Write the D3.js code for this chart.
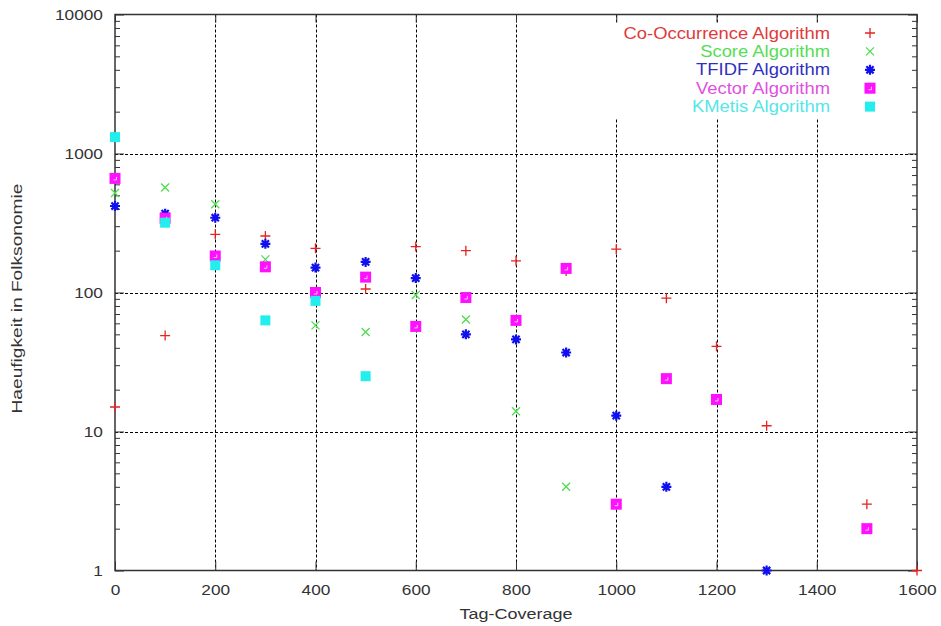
<!DOCTYPE html>
<html>
<head>
<meta charset="utf-8">
<script src="https://cdn.jsdelivr.net/npm/d3@7"></script>
<style>
  html, body { margin: 0; padding: 0; background: #fff; }
  svg { display: block; font-family: "Liberation Sans", Arial, sans-serif; }
</style>
</head>
<body>
<svg id="chart" width="941" height="626"></svg>
<script>
// ---- data ----
const xTicks = [0, 200, 400, 600, 800, 1000, 1200, 1400, 1600];
const yTicks = [1, 10, 100, 1000, 10000];
const xGrid = [200, 400, 600, 800, 1000, 1200, 1400];
const yGrid = [10, 100, 1000];

const seriesNames = ["Co-Occurrence Algorithm", "Score Algorithm", "TFIDF Algorithm", "Vector Algorithm", "KMetis Algorithm"];

const coX = [0, 100, 200, 300, 400, 500, 600, 700, 800, 900, 1000, 1100, 1200, 1300, 1500, 1600];
const coY = [15, 49, 262, 255, 208, 106, 214, 200, 169, 143, 205, 91, 41, 11, 3, 1];

const scoreX = [0, 100, 200, 300, 400, 500, 600, 700, 800, 900];
const scoreY = [520, 570, 431, 173, 58, 52, 96, 64, 14, 4];

const tfidfX = [0, 100, 200, 300, 400, 500, 600, 700, 800, 900, 1000, 1100, 1300];
const tfidfY = [419, 369, 345, 224, 151, 166, 127, 50, 46, 37, 13, 4, 1];

const vecX = [0, 100, 200, 300, 400, 500, 600, 700, 800, 900, 1000, 1100, 1200, 1500];
const vecY = [662, 342, 183, 153, 100, 129, 57, 92, 63, 149, 3, 24, 17, 2];

const kmX = [0, 100, 200, 300, 400, 500];
const kmY = [1312, 318, 157, 63, 87, 25];

// ---- layout ----
const W = 941, H = 626;
const pLeft = 115, pRight = 917, pTop = 14.5, pBottom = 570.5;

const svg = d3.select("#chart");
const x = d3.scaleLinear().domain([0, 1600]).range([pLeft, pRight]);
const y = d3.scaleLog().domain([1, 10000]).range([pBottom, pTop]);

const textCol = "#333";
const axisCol = "#333";

// ---- grid ----
const grid = svg.append("g").attr("stroke", "#000").attr("stroke-width", 1).attr("stroke-dasharray", "3,2");
grid.selectAll("line.v").data(xGrid).join("line").attr("class", "v")
  .attr("x1", d => Math.round(x(d)) + 0.5).attr("x2", d => Math.round(x(d)) + 0.5)
  .attr("y1", pTop).attr("y2", pBottom);
grid.selectAll("line.h").data(yGrid).join("line").attr("class", "h")
  .attr("y1", d => Math.round(y(d)) + 0.5).attr("y2", d => Math.round(y(d)) + 0.5)
  .attr("x1", pLeft).attr("x2", pRight);

// legend box blanks the grid
const legRowH = 18.4;
const legTop = 33;
svg.append("rect")
  .attr("x", 560).attr("y", pTop + 8)
  .attr("width", pRight - 560 - 1)
  .attr("height", legTop + legRowH * 4 + 12 - (pTop + 8))
  .attr("fill", "#fff");

// ---- axes ----
function styleAxis(g) {
  g.select(".domain").remove();
  g.selectAll(".tick line").attr("stroke", axisCol).attr("stroke-width", 1);
}
const minorVals = [];
for (let e = 0; e < 4; e++) for (let m = 2; m <= 9; m++) minorVals.push(m * Math.pow(10, e));

// left major
svg.append("g").attr("transform", `translate(${pLeft},0)`)
  .call(d3.axisLeft(y).tickValues(yTicks).tickFormat(d3.format("d")).tickSize(-9).tickPadding(10))
  .call(styleAxis)
  .call(g => g.selectAll("text").attr("fill", textCol).attr("font-size", 15)
    .attr("font-family", "Liberation Sans, Arial, sans-serif")
    .attr("transform", "scale(1.15,1)").attr("x", -10.5));
// left minor
svg.append("g").attr("transform", `translate(${pLeft},0)`)
  .call(d3.axisLeft(y).tickValues(minorVals).tickFormat("").tickSize(-5))
  .call(styleAxis);
// right major / minor
svg.append("g").attr("transform", `translate(${pRight},0)`)
  .call(d3.axisRight(y).tickValues(yTicks).tickFormat("").tickSize(-9))
  .call(styleAxis);
svg.append("g").attr("transform", `translate(${pRight},0)`)
  .call(d3.axisRight(y).tickValues(minorVals).tickFormat("").tickSize(-5))
  .call(styleAxis);
// bottom
svg.append("g").attr("transform", `translate(0,${pBottom})`)
  .call(d3.axisBottom(x).tickValues(xTicks).tickFormat(d3.format("d")).tickSize(-9).tickPadding(14))
  .call(styleAxis)
  .call(g => g.selectAll("text").attr("fill", textCol).attr("font-size", 15)
    .attr("font-family", "Liberation Sans, Arial, sans-serif")
    .attr("transform", "scale(1.15,1)"));
// top
svg.append("g").attr("transform", `translate(0,${pTop})`)
  .call(d3.axisTop(x).tickValues(xTicks).tickFormat("").tickSize(-8))
  .call(styleAxis);

// border
svg.append("rect")
  .attr("x", pLeft).attr("y", pTop).attr("width", pRight - pLeft).attr("height", pBottom - pTop)
  .attr("fill", "none").attr("stroke", axisCol).attr("stroke-width", 1.5);

// axis titles
svg.append("text")
  .attr("transform", `translate(${x(800)},619) scale(1.2,1)`)
  .attr("text-anchor", "middle").attr("font-size", 15).attr("fill", textCol)
  .text("Tag-Coverage");
svg.append("text")
  .attr("transform", `translate(22,${(pTop + pBottom) / 2 + 6}) rotate(-90)`)
  .attr("text-anchor", "middle").attr("font-size", 15).attr("fill", textCol)
  .attr("textLength", 230).attr("lengthAdjust", "spacingAndGlyphs")
  .text("Haeufigkeit in Folksonomie");

// ---- markers ----
const markerCol = ["#e62222", "#4fdc4f", "#1010ee", "#ff10ff", "#22eeee"];
const textColors = ["#e03a3a", "#55dd55", "#3030c0", "#e050e0", "#55e6e6"];

function drawPlus(g, c) {
  g.append("path").attr("d", "M-5,0H5M0,-5V5").attr("stroke", c).attr("stroke-width", 1.3).attr("fill", "none");
}
function drawCross(g, c) {
  g.append("path").attr("d", "M-4,-4L4,4M-4,4L4,-4").attr("stroke", c).attr("stroke-width", 1.3).attr("fill", "none");
}
function drawStar(g, c) {
  g.append("path").attr("d", "M-5,0H5M0,-5V5M-3.6,-3.6L3.6,3.6M-3.6,3.6L3.6,-3.6")
    .attr("stroke", c).attr("stroke-width", 2.2).attr("fill", "none");
}
function drawSqMag(g, c) {
  g.append("rect").attr("x", -5.5).attr("y", -5.5).attr("width", 11).attr("height", 11).attr("fill", c);
  g.append("path").attr("d", "M1.5,-1.5V1.5H-1.5").attr("stroke", "#fff").attr("stroke-width", 0.9)
    .attr("fill", "none").attr("opacity", 0.85);
}
function drawSqCyan(g, c) {
  g.append("rect").attr("x", -5).attr("y", -5).attr("width", 10).attr("height", 10).attr("fill", c);
}
const drawers = [drawPlus, drawCross, drawStar, drawSqMag, drawSqCyan];
const seriesX = [coX, scoreX, tfidfX, vecX, kmX];
const seriesY = [coY, scoreY, tfidfY, vecY, kmY];

seriesNames.forEach((name, i) => {
  const pts = seriesX[i].map((xv, j) => ({ x: xv, y: seriesY[i][j] }));
  const g = svg.append("g");
  g.selectAll("g").data(pts).join("g")
    .attr("transform", d => `translate(${x(d.x)},${y(d.y)})`)
    .each(function () { drawers[i](d3.select(this), markerCol[i]); });
});

// ---- legend ----
const leg = svg.append("g");
seriesNames.forEach((name, i) => {
  const cy = legTop + i * legRowH;
  leg.append("text")
    .attr("transform", `translate(830,${cy + 5.5}) scale(1.15,1)`)
    .attr("text-anchor", "end").attr("font-size", 16).attr("fill", textColors[i])
    .text(name);
  const mg = leg.append("g").attr("transform", `translate(870,${cy})`);
  drawers[i](mg, markerCol[i]);
});
</script>
</body>
</html>
